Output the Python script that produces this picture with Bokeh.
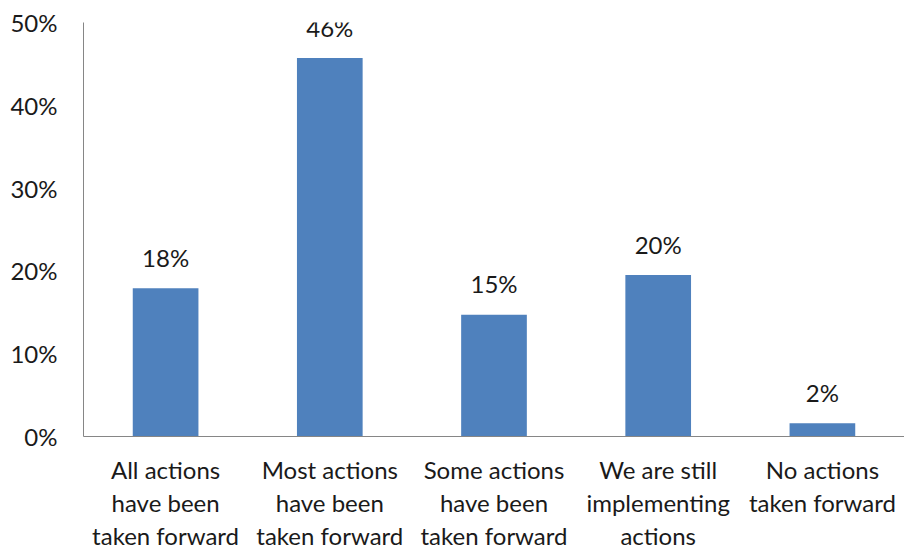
from bokeh.plotting import figure
from bokeh.models import ColumnDataSource, PrintfTickFormatter, FixedTicker, Range1d
from bokeh.core.properties import value
from bokeh.embed import file_html
from bokeh.resources import INLINE

categories = [
    "All actions\nhave been\ntaken forward",
    "Most actions\nhave been\ntaken forward",
    "Some actions\nhave been\ntaken forward",
    "We are still\nimplementing\nactions",
    "No actions\ntaken forward",
]
values = [17.9, 45.7, 14.7, 19.5, 1.6]
labels = ["18%", "46%", "15%", "20%", "2%"]
y_ticks = [0, 10, 20, 30, 40, 50]

FONT = "Lato"

src = ColumnDataSource(dict(cat=categories, val=values, lab=labels))

p = figure(
    x_range=categories,
    y_range=Range1d(0, 50),
    frame_width=821, frame_height=414,
    output_backend="svg", toolbar_location=None,
    min_border_left=83, min_border_right=0, min_border_top=22, min_border_bottom=0,
)
p.x_range.range_padding = 0
p.outline_line_color = None
p.xgrid.grid_line_color = None
p.ygrid.grid_line_color = None
p.background_fill_color = "white"
p.border_fill_color = "white"

p.vbar(x="cat", top="val", width=0.4, source=src, color="#4F81BD", line_color=None)
p.text(x="cat", y="val", text="lab", source=src, text_align="center",
       text_baseline="alphabetic", y_offset=-31, text_font=value(FONT),
       text_font_size="24px", text_color="#1a1a1a")

for ax in (p.xaxis[0], p.yaxis[0]):
    ax.axis_line_color = "#868686"
    ax.axis_line_width = 1
    ax.major_tick_line_color = None
    ax.minor_tick_line_color = None
    ax.major_label_text_font = FONT
    ax.major_label_text_font_size = "24px"
    ax.major_label_text_color = "#1a1a1a"

p.yaxis.ticker = FixedTicker(ticks=y_ticks)
p.yaxis.formatter = PrintfTickFormatter(format="%d%%")
p.yaxis.major_label_standoff = 20
p.xaxis.major_label_standoff = 12
p.xaxis.major_label_text_line_height = 1.14

open("out.html", "w").write(file_html(p, INLINE))
